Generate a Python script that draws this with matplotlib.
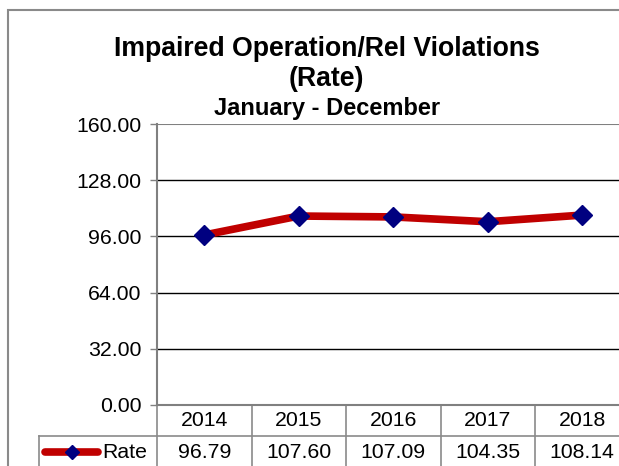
import matplotlib.pyplot as plt
from matplotlib.patches import Rectangle
from matplotlib.lines import Line2D
import matplotlib.transforms as mtransforms

plt.rcParams['font.family'] = ['Liberation Sans', 'DejaVu Sans']

years = ['2014', '2015', '2016', '2017', '2018']
rate = [96.79, 107.60, 107.09, 104.35, 108.14]
series_name = 'Rate'
yticks = [0, 32, 64, 96, 128, 160]

W, H = 619, 466
fs = 15.3
fig = plt.figure(figsize=(W / 100, H / 100), dpi=100)

# outer chart border (runs past the right/bottom edges like the screenshot)
fig.add_artist(Rectangle((8 / W, -0.1), 1.2, 1 - 10 / H + 0.1, transform=fig.transFigure,
                         fill=False, ec='#8a8a8a', lw=1.5))

ax = fig.add_axes([157 / W, 61 / H, 472.5 / W, 281 / H])
x = list(range(len(years)))
ax.plot(x, rate, color='#C00000', lw=5.5, solid_capstyle='round', zorder=3)
ax.plot(x, rate, ls='none', marker='D', ms=10, color='#000080', zorder=4)

ax.set_xlim(-0.5, len(years) - 0.5)
ax.set_ylim(0, 160)
ax.set_yticks(yticks)
ax.set_yticklabels([f'{v:.2f}' for v in yticks], fontsize=fs)
ax.set_xticks([])
for v in yticks[1:-1]:
    ax.axhline(v, color='black', lw=1, zorder=1)
ax.axhline(yticks[-1], color='#808080', lw=1.5, zorder=1)
for s in ['top', 'right']:
    ax.spines[s].set_visible(False)
ax.spines['left'].set_color('#808080')
ax.spines['left'].set_linewidth(1.5)
ax.spines['bottom'].set_color('#808080')
ax.spines['bottom'].set_linewidth(1.5)
ax.tick_params(axis='y', length=5, color='#808080', width=1, pad=6)

# data table under the plot
tr = mtransforms.blended_transform_factory(ax.transData, ax.transAxes)
row1 = -31 / 281
row2 = -62 / 281
grid = '#8a8a8a'
for i in range(len(years) + 1):
    ax.add_line(Line2D([i - 0.5, i - 0.5], [0, row2], transform=tr, color=grid, lw=1.2, clip_on=False))
ax.add_line(Line2D([-1.75, len(years) - 0.5], [row1, row1], transform=tr, color=grid, lw=1.2, clip_on=False))
ax.add_line(Line2D([-1.75, -1.75], [row1, row2], transform=tr, color=grid, lw=1.2, clip_on=False))
for i, yr in enumerate(years):
    ax.text(i, -15 / 281, yr, transform=tr, ha='center', va='center', fontsize=fs)
    ax.text(i, -47 / 281, f'{rate[i]:.2f}', transform=tr, ha='center', va='center', fontsize=fs)

# legend key in the table
ky = -47 / 281
ax.add_line(Line2D([-1.69, -1.12], [ky, ky], transform=tr, color='#C00000', lw=5.5,
                   solid_capstyle='round', clip_on=False))
ax.add_line(Line2D([-1.40], [ky], transform=tr, ls='none', marker='D', ms=7.5,
                   color='#000080', clip_on=False))
ax.text(-1.08, ky, series_name, transform=tr, ha='left', va='center', fontsize=fs)

fig.text(0.528, 1 - 49 / H, 'Impaired Operation/Rel Violations', ha='center', va='center',
         fontsize=19.2, fontweight='bold')
fig.text(0.528, 1 - 79 / H, '(Rate)', ha='center', va='center', fontsize=19.2, fontweight='bold')
fig.text(0.528, 1 - 108 / H, 'January - December', ha='center', va='center',
         fontsize=17, fontweight='bold')

fig.savefig('out.png', dpi=100)
